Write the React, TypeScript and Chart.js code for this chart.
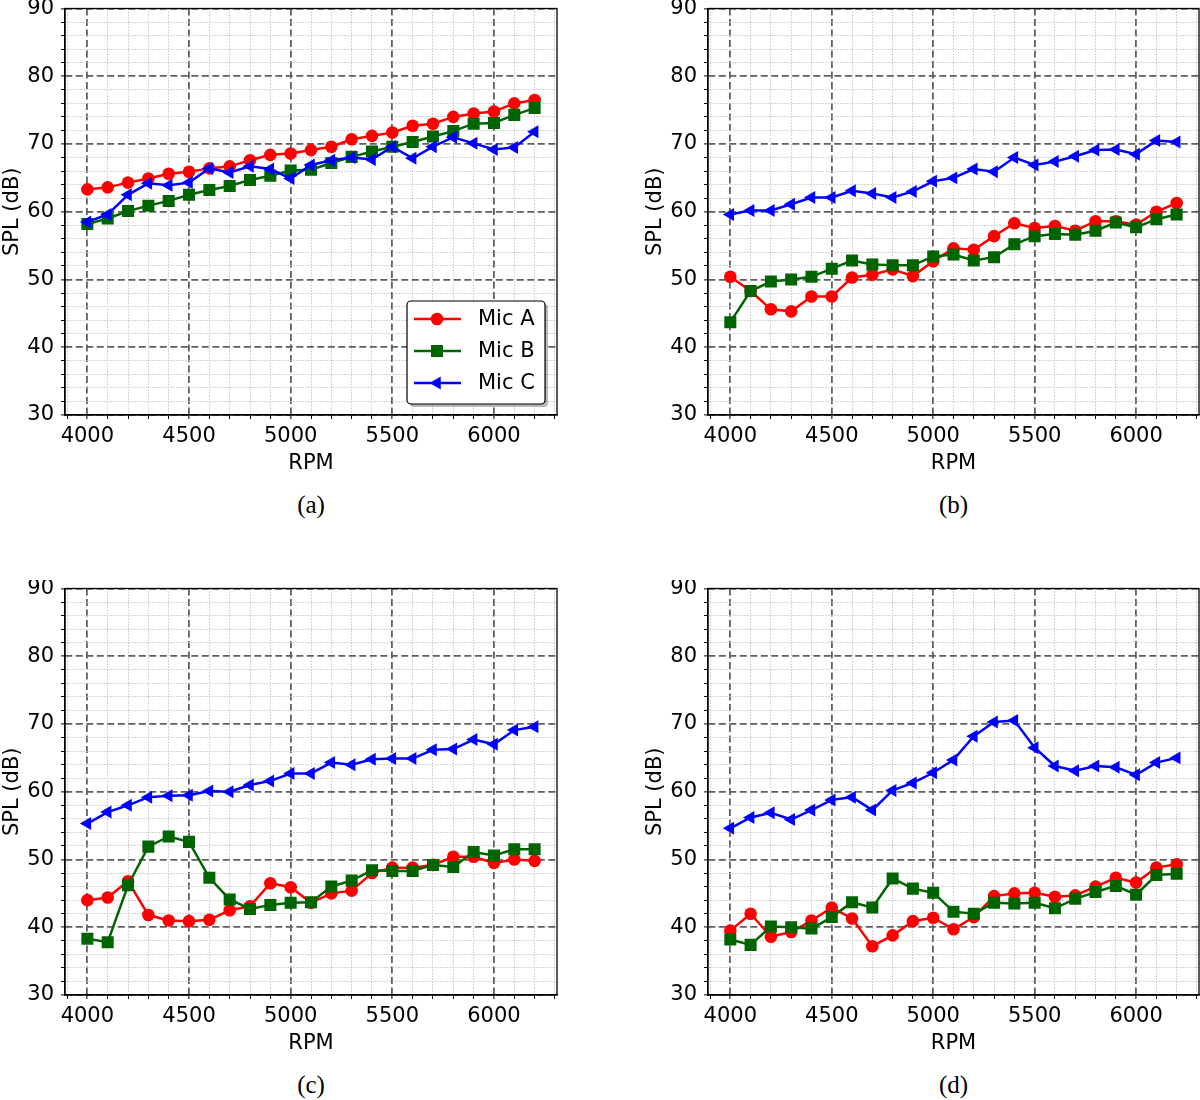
import React, { useEffect, useRef } from 'react';
import { Chart, ChartConfiguration, registerables } from 'chart.js';

Chart.register(...registerables);

// RPM steps shared by all four panels
const rpm = [4000, 4100, 4200, 4300, 4400, 4500, 4600, 4700, 4800, 4900, 5000, 5100,
  5200, 5300, 5400, 5500, 5600, 5700, 5800, 5900, 6000, 6100, 6200];

const xTickLabels = [4000, 4500, 5000, 5500, 6000];
const yTickLabels = [30, 40, 50, 60, 70, 80, 90];

// (a)
const aMicA = [63.3, 63.6, 64.3, 64.9, 65.6, 65.9, 66.4, 66.7, 67.6, 68.4, 68.6, 69.1,
  69.6, 70.7, 71.2, 71.7, 72.7, 73.0, 74.0, 74.5, 74.8, 76.0, 76.5];
const aMicB = [58.2, 59.0, 60.1, 60.9, 61.6, 62.5, 63.2, 63.8, 64.7, 65.3, 66.1, 66.2,
  67.2, 68.1, 68.9, 69.6, 70.3, 71.1, 71.9, 73.0, 73.1, 74.3, 75.3];
const aMicC = [58.5, 59.6, 62.5, 64.2, 63.9, 64.3, 66.4, 65.8, 66.7, 66.3, 64.9, 66.9,
  67.6, 68.0, 67.7, 69.6, 67.9, 69.6, 71.0, 70.1, 69.2, 69.5, 71.8];

// (b)
const bMicA = [50.4, 48.3, 45.6, 45.3, 47.5, 47.5, 50.3, 50.7, 51.5, 50.5, 52.7, 54.6,
  54.4, 56.4, 58.3, 57.6, 57.9, 57.2, 58.6, 58.6, 58.1, 60.0, 61.3];
const bMicB = [43.7, 48.3, 49.7, 50.0, 50.4, 51.6, 52.8, 52.2, 52.1, 52.1, 53.4, 53.7,
  52.8, 53.3, 55.2, 56.4, 56.7, 56.6, 57.2, 58.4, 57.7, 58.9, 59.6];
const bMicC = [59.6, 60.2, 60.2, 61.1, 62.1, 62.1, 63.1, 62.7, 62.1, 63.0, 64.5, 65.0,
  66.3, 65.9, 68.0, 66.9, 67.4, 68.2, 69.1, 69.2, 68.5, 70.5, 70.3];

// (c)
const cMicA = [44.0, 44.4, 46.8, 41.8, 41.0, 40.9, 41.1, 42.5, 43.1, 46.5, 45.9, 43.6,
  45.0, 45.4, 48.0, 48.8, 48.8, 49.2, 50.4, 50.4, 49.5, 50.0, 49.8];
const cMicB = [38.3, 37.8, 46.2, 51.9, 53.4, 52.6, 47.3, 44.1, 42.7, 43.3, 43.6, 43.7,
  46.0, 46.9, 48.4, 48.3, 48.3, 49.2, 48.9, 51.1, 50.6, 51.5, 51.5];
const cMicC = [55.3, 57.0, 58.0, 59.2, 59.4, 59.5, 60.1, 60.0, 61.0, 61.6, 62.7, 62.7,
  64.3, 64.0, 64.8, 64.9, 64.9, 66.2, 66.3, 67.7, 67.0, 69.1, 69.6];

// (d)
const dMicA = [39.5, 42.0, 38.6, 39.3, 41.0, 42.9, 41.3, 37.2, 38.8, 40.9, 41.4, 39.7,
  41.5, 44.6, 45.0, 45.1, 44.5, 44.7, 46.0, 47.3, 46.6, 48.8, 49.3];
const dMicB = [38.2, 37.4, 40.1, 40.0, 39.8, 41.5, 43.7, 42.9, 47.2, 45.7, 45.1, 42.3,
  42.0, 43.6, 43.5, 43.6, 42.8, 44.2, 45.2, 46.1, 44.8, 47.7, 47.9];
const dMicC = [54.6, 56.2, 56.9, 55.9, 57.3, 58.8, 59.2, 57.3, 60.2, 61.3, 62.8, 64.7,
  68.2, 70.3, 70.5, 66.5, 63.8, 63.1, 63.8, 63.6, 62.5, 64.3, 65.0];

const seriesNames = ['Mic A', 'Mic B', 'Mic C'];
const seriesColors = ['#ff0000', '#006400', '#0000ff'];

const FONT = '"DejaVu Sans", sans-serif';
const PANEL_H = 490;

const toPoints = (vals: number[]) => vals.map((v, i) => ({ x: rpm[i], y: v }));

// full box round the plot, like matplotlib spines
const framePlugin = {
  id: 'frame',
  afterDraw(chart: Chart) {
    const { ctx, chartArea: a } = chart;
    ctx.save();
    ctx.strokeStyle = '#000';
    ctx.lineWidth = 1.3;
    ctx.strokeRect(a.left, a.top, a.right - a.left, a.bottom - a.top);
    ctx.restore();
  }
};

function drawMarker(ctx: CanvasRenderingContext2D, kind: number, x: number, y: number) {
  ctx.beginPath();
  if (kind === 0) {
    ctx.arc(x, y, 6.3, 0, Math.PI * 2);
  } else if (kind === 1) {
    ctx.rect(x - 6, y - 6, 12, 12);
  } else {
    ctx.moveTo(x - 7.5, y);
    ctx.lineTo(x + 3.75, y - 6.5);
    ctx.lineTo(x + 3.75, y + 6.5);
    ctx.closePath();
  }
  ctx.fill();
}

const legendPlugin = {
  id: 'boxLegend',
  afterDraw(chart: Chart) {
    const { ctx, chartArea: a } = chart;
    const w = 138, h = 103;
    const x0 = a.right - 12 - w;
    const y0 = a.bottom - 11 - h;
    const r = 4;
    const box = (x: number, y: number) => {
      ctx.beginPath();
      ctx.moveTo(x + r, y);
      ctx.arcTo(x + w, y, x + w, y + h, r);
      ctx.arcTo(x + w, y + h, x, y + h, r);
      ctx.arcTo(x, y + h, x, y, r);
      ctx.arcTo(x, y, x + w, y, r);
      ctx.closePath();
    };
    ctx.save();
    box(x0 + 3, y0 + 3);
    ctx.fillStyle = 'rgba(0,0,0,0.28)';
    ctx.fill();
    box(x0, y0);
    ctx.fillStyle = '#fff';
    ctx.fill();
    ctx.strokeStyle = '#000';
    ctx.lineWidth = 1.2;
    ctx.stroke();
    ctx.font = `21px ${FONT}`;
    ctx.textBaseline = 'middle';
    seriesNames.forEach((name, i) => {
      const y = y0 + 18 + i * 32;
      ctx.strokeStyle = seriesColors[i];
      ctx.fillStyle = seriesColors[i];
      ctx.lineWidth = 2.5;
      ctx.beginPath();
      ctx.moveTo(x0 + 7, y);
      ctx.lineTo(x0 + 54, y);
      ctx.stroke();
      drawMarker(ctx, i, x0 + 30, y);
      ctx.fillStyle = '#000';
      ctx.fillText(name, x0 + 71, y + 1);
    });
    ctx.restore();
  }
};

interface PanelProps {
  left: number;
  top: number;
  width: number;
  axisWidth: number;
  padRight: number;
  micA: number[];
  micB: number[];
  micC: number[];
  caption: string;
  legend?: boolean;
}

const Panel: React.FC<PanelProps> = ({ left, top, width, axisWidth, padRight, micA, micB, micC, caption, legend }) => {
  const canvasRef = useRef<HTMLCanvasElement>(null);

  useEffect(() => {
    if (!canvasRef.current) return;
    const isMajorX = (v: number) => xTickLabels.includes(v);
    const isMajorY = (v: number) => yTickLabels.includes(v);
    const gridColor = (major: boolean) => (major ? '#5f5f5f' : '#c2c2c2');
    const gridWidth = (major: boolean) => (major ? 1.8 : 0.9);
    const gridDash = (major: boolean) => (major ? [7, 3.5] : [1.5, 1.5]);

    const config: ChartConfiguration<'line'> = {
      type: 'line',
      data: {
        datasets: [
          {
            label: seriesNames[0], data: toPoints(micA), order: 3,
            borderColor: seriesColors[0], backgroundColor: seriesColors[0], borderWidth: 2.5,
            pointStyle: 'circle', pointRadius: 6.3, pointBorderWidth: 0,
          },
          {
            label: seriesNames[1], data: toPoints(micB), order: 2,
            borderColor: seriesColors[1], backgroundColor: seriesColors[1], borderWidth: 2.5,
            pointStyle: 'rect', pointRadius: 8.5, pointBorderWidth: 0,
          },
          {
            label: seriesNames[2], data: toPoints(micC), order: 1,
            borderColor: seriesColors[2], backgroundColor: seriesColors[2], borderWidth: 2.5,
            pointStyle: 'triangle', pointRotation: -90, pointRadius: 7.5, pointBorderWidth: 0,
          },
        ]
      },
      options: {
        animation: false,
        responsive: false,
        layout: { padding: { top: 8, right: padRight, left: 0, bottom: 0 } },
        plugins: { legend: { display: false }, tooltip: { enabled: false } },
        scales: {
          x: {
            type: 'linear',
            min: 3890,
            max: 6310,
            afterFit: (s: any) => { s.height = 75; s.paddingLeft = 0; s.paddingRight = 0; },
            ticks: {
              stepSize: 100,
              includeBounds: false,
              autoSkip: false,
              maxRotation: 0,
              padding: 5,
              color: '#000',
              font: { family: FONT, size: 21 },
              callback: (v) => (isMajorX(Number(v)) ? String(v) : ''),
            },
            grid: {
              color: (c: any) => gridColor(!!c.tick && isMajorX(c.tick.value)),
              lineWidth: (c: any) => gridWidth(!!c.tick && isMajorX(c.tick.value)),
              tickColor: '#000',
              tickLength: 4,
              tickWidth: 1,
            },
            border: {
              color: '#000',
              width: 1.3,
              dash: (c: any) => gridDash(!!c.tick && isMajorX(c.tick.value)),
            },
            title: {
              display: true,
              text: 'RPM',
              color: '#000',
              font: { family: FONT, size: 21 },
              padding: { top: 0, bottom: 14 },
            },
          },
          y: {
            type: 'linear',
            min: 30,
            max: 90,
            afterFit: (s: any) => { s.width = axisWidth; s.paddingTop = 0; s.paddingBottom = 0; },
            ticks: {
              stepSize: 2,
              includeBounds: false,
              autoSkip: false,
              padding: 7,
              color: '#000',
              font: { family: FONT, size: 21 },
              callback: (v) => (isMajorY(Number(v)) ? String(v) : ''),
            },
            grid: {
              color: (c: any) => gridColor(!!c.tick && isMajorY(c.tick.value)),
              lineWidth: (c: any) => gridWidth(!!c.tick && isMajorY(c.tick.value)),
              tickColor: '#000',
              tickLength: 4,
              tickWidth: 1,
            },
            border: {
              color: '#000',
              width: 1.3,
              dash: (c: any) => gridDash(!!c.tick && isMajorY(c.tick.value)),
            },
            title: {
              display: true,
              text: 'SPL (dB)',
              color: '#000',
              font: { family: FONT, size: 21 },
              padding: { top: axisWidth - 65, bottom: 0 },
            },
          },
        },
      },
      plugins: legend ? [framePlugin, legendPlugin] : [framePlugin],
    };

    const chart = new Chart(canvasRef.current, config);
    return () => chart.destroy();
  }, [micA, micB, micC, axisWidth, padRight, legend]);

  return (
    <>
      <div style={{ position: 'absolute', left, top, width, height: PANEL_H }}>
        <canvas ref={canvasRef} width={width} height={PANEL_H} style={{ width, height: PANEL_H, display: 'block' }}></canvas>
      </div>
      <div style={{
        position: 'absolute', left: left + axisWidth, top: top + 491, width: width - axisWidth - padRight,
        textAlign: 'center', fontFamily: '"Liberation Serif", serif', fontSize: 25, lineHeight: '28px', color: '#000'
      }}>
        {caption}
      </div>
    </>
  );
};

export default function App() {
  // right-hand canvases run past the page edge a little; the wrapper clips them
  return (
    <div style={{ position: 'absolute', left: 0, top: 0, width: 1200, height: 1100, overflow: 'hidden', background: '#fff' }}>
      <Panel left={0} top={0} width={600} axisWidth={65} padRight={43} micA={aMicA} micB={aMicB} micC={aMicC} caption="(a)" legend />
      <Panel left={640} top={0} width={580} axisWidth={68} padRight={21} micA={bMicA} micB={bMicB} micC={bMicC} caption="(b)" />
      <Panel left={0} top={580} width={600} axisWidth={65} padRight={43} micA={cMicA} micB={cMicB} micC={cMicC} caption="(c)" />
      <Panel left={640} top={580} width={580} axisWidth={68} padRight={21} micA={dMicA} micB={dMicB} micC={dMicC} caption="(d)" />
    </div>
  );
}
